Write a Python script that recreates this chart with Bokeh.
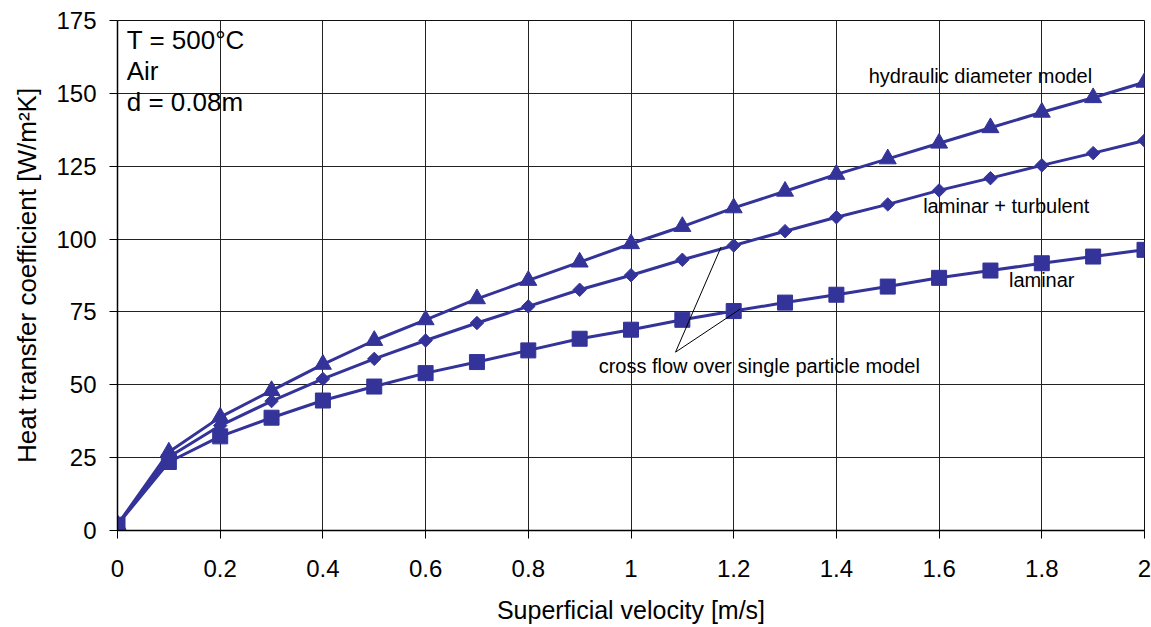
import math
from bokeh.plotting import figure
from bokeh.models import FixedTicker, ColumnDataSource
from bokeh.core.properties import value
from bokeh.embed import file_html
from bokeh.resources import INLINE

# ---- data ----
velocity = [0, 0.1, 0.2, 0.3, 0.4, 0.5, 0.6, 0.7, 0.8, 0.9, 1.0,
            1.1, 1.2, 1.3, 1.4, 1.5, 1.6, 1.7, 1.8, 1.9, 2.0]
hydraulic = [2, 26.9, 38.9, 48.0, 57.0, 65.2, 72.3, 79.5, 85.8, 92.1, 98.4,
             104.3, 110.7, 116.4, 122.2, 127.5, 132.9, 138.2, 143.5, 148.5, 153.8]
lam_turb = [2, 25.2, 36.0, 44.4, 52.0, 58.9, 65.2, 71.2, 76.9, 82.6, 87.6,
            92.9, 97.8, 102.7, 107.5, 111.9, 116.7, 120.9, 125.3, 129.5, 133.8]
laminar = [2, 23.5, 32.3, 38.7, 44.6, 49.4, 54.0, 57.8, 61.8, 65.8, 68.9,
           72.3, 75.3, 78.2, 80.9, 83.7, 86.7, 89.2, 91.7, 94.0, 96.3]

x_ticks = [0, 0.2, 0.4, 0.6, 0.8, 1.0, 1.2, 1.4, 1.6, 1.8, 2.0]
x_tick_labels = ["0", "0.2", "0.4", "0.6", "0.8", "1", "1.2", "1.4", "1.6", "1.8", "2"]
y_ticks = [0, 25, 50, 75, 100, 125, 150, 175]

info_texts = ["T = 500°C", "Air", "d = 0.08m"]
info_x = [0.018, 0.018, 0.018]
info_y = [168.3, 157.6, 146.9]

series_labels = ["hydraulic diameter model", "laminar + turbulent", "laminar",
                 "cross flow over single particle model"]
label_x = [1.463, 1.569, 1.736, 0.937]
label_y = [156.0, 111.4, 86.0, 56.6]

# leader lines of the "cross flow" annotation
leader_xs = [[1.0867, 1.1755], [1.0867, 1.2128]]
leader_ys = [[61.2, 97.3], [61.2, 76.0]]

BLUE = "#333399"
FONT = "Liberation Sans"

p = figure(width=1151, height=627, x_range=(0, 2), y_range=(0, 175),
           output_backend="svg", toolbar_location=None,
           min_border_left=117, min_border_right=7, min_border_top=20,
           min_border_bottom=97)
p.background_fill_color = "white"
p.border_fill_color = "white"
p.outline_line_color = "#111111"
p.outline_line_width = 1

# grid
p.xgrid.ticker = FixedTicker(ticks=x_ticks)
p.ygrid.ticker = FixedTicker(ticks=y_ticks)
for g in (p.xgrid, p.ygrid):
    g.grid_line_color = "#222222"
    g.grid_line_width = 1

# axes
p.xaxis.ticker = FixedTicker(ticks=x_ticks)
p.xaxis.major_label_overrides = dict(zip(x_ticks, x_tick_labels))
p.yaxis.ticker = FixedTicker(ticks=y_ticks)
for ax in (p.xaxis, p.yaxis):
    ax.axis_line_color = "black"
    ax.axis_line_width = 1.5
    ax.major_tick_line_color = "black"
    ax.major_tick_in = 0
    ax.major_tick_out = 8
    ax.minor_tick_line_color = None
    ax.major_label_text_font = FONT
    ax.major_label_text_font_size = "24px"
    ax.major_label_text_color = "black"
    ax.axis_label_text_font = FONT
    ax.axis_label_text_font_style = "normal"
    ax.axis_label_text_color = "black"
p.xaxis.axis_label = "Superficial velocity [m/s]"
p.yaxis.axis_label = "Heat transfer coefficient [W/m²K]"
p.xaxis.axis_label_text_font_size = "25px"
p.yaxis.axis_label_text_font_size = "26px"
p.xaxis.major_label_standoff = 21
p.yaxis.major_label_standoff = 13
p.xaxis.axis_label_standoff = 16
p.yaxis.axis_label_standoff = 11

src = ColumnDataSource(dict(x=velocity, hyd=hydraulic, lt=lam_turb, lam=laminar))

# lines
for col in ("hyd", "lt", "lam"):
    p.line("x", col, source=src, line_color=BLUE, line_width=3)

# markers
p.scatter("x", "hyd", source=src, marker="triangle", size=17,
          fill_color=BLUE, line_color=BLUE)
p.scatter("x", "lt", source=src, marker="square", size=9.5, angle=math.pi / 4,
          fill_color=BLUE, line_color=BLUE)
p.scatter("x", "lam", source=src, marker="square", size=15,
          fill_color=BLUE, line_color=BLUE)

# leader lines
p.multi_line(xs=leader_xs, ys=leader_ys, line_color="black", line_width=1)

# labels
p.text(x=label_x, y=label_y, text=series_labels, text_font=value(FONT),
       text_font_size="20px", text_color="black", text_baseline="alphabetic",
       text_align="left")
p.text(x=info_x, y=info_y, text=info_texts, text_font=value(FONT),
       text_font_size="26px", text_color="black", text_baseline="alphabetic",
       text_align="left")

open("out.html", "w").write(file_html(p, INLINE))
